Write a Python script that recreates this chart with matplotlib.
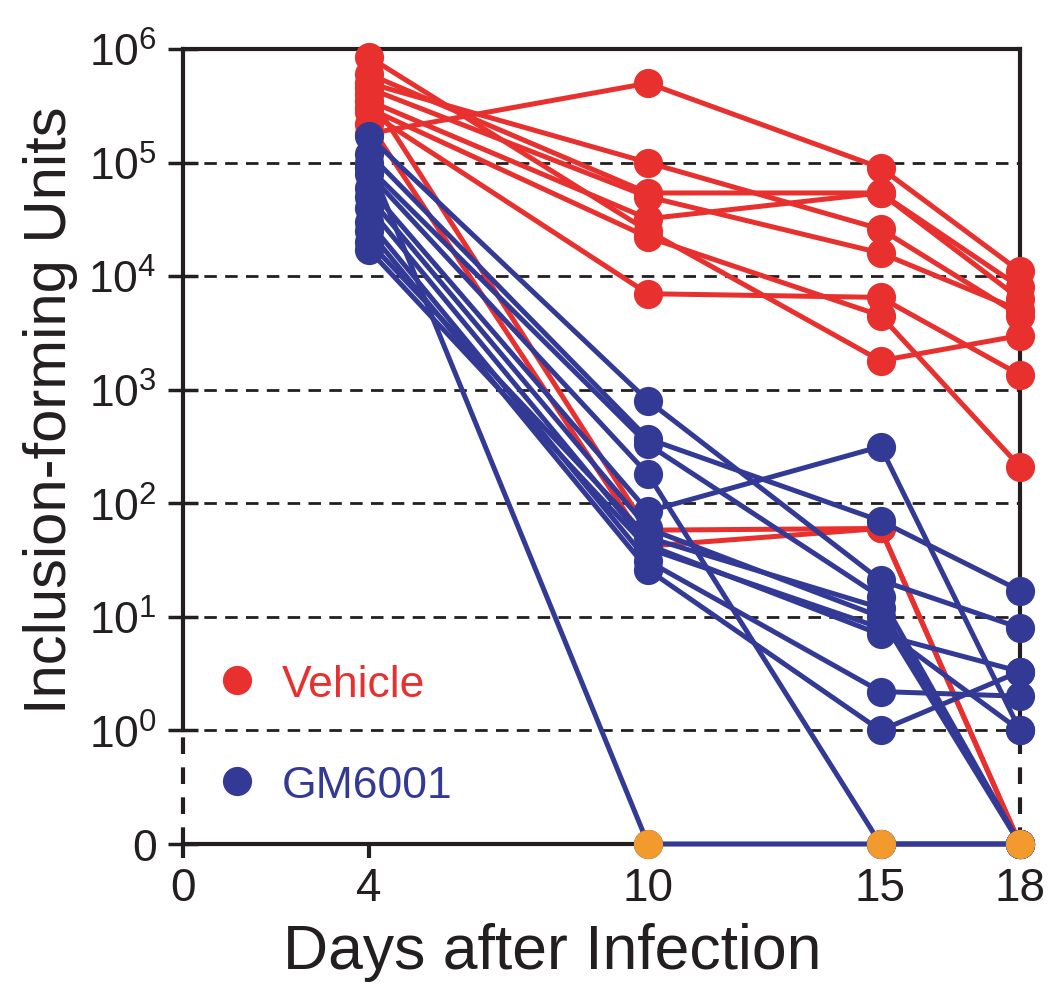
import numpy as np
import matplotlib.pyplot as plt
from matplotlib.lines import Line2D
from matplotlib.ticker import NullLocator

plt.rcParams['font.family'] = ['Liberation Sans', 'DejaVu Sans']
plt.rcParams['mathtext.fontset'] = 'custom'
plt.rcParams['mathtext.rm'] = 'Liberation Sans'
plt.rcParams['mathtext.it'] = 'Liberation Sans:italic'
plt.rcParams['mathtext.bf'] = 'Liberation Sans:bold'

# days post infection
days = [4, 10, 15, 18]

# inclusion-forming units per mouse (0 = none recovered)
vehicle = [
    [1.8e5, 5.0e5, 9.0e4, 1.1e4],
    [5.0e5, 1.0e5, 2.6e4, 4.5e3],
    [6.0e5, 5.4e4, 5.4e4, 8.0e3],
    [3.5e5, 3.2e4, 5.4e4, 6.3e3],
    [4.5e5, 5.0e4, 1.6e4, 5.0e3],
    [3.0e5, 2.2e4, 4.5e3, 2.1e2],
    [8.5e5, 2.5e4, 1.8e3, 3.0e3],
    [2.8e5, 7.0e3, 6.5e3, 1.35e3],
    [4.0e5, 58, 60, 0],
    [2.2e5, 42, 60, 0],
]

gm6001 = [
    [1.7e5, 800, 21, 8],
    [1.2e5, 370, 70, 17],
    [9.0e4, 330, 15, 0],
    [8.0e4, 180, 0, 0],
    [6.0e4, 85, 316, 1.0],
    [5.0e4, 60, 10, 0],
    [4.0e4, 43, 7, 3.3],
    [3.0e4, 31, 2.2, 2.0],
    [2.5e4, 26, 1.0, 3.3],
    [2.0e4, 50, 12, 0],
    [1.7e4, 40, 8, 1.0],
    [1.0e5, 0, 0, 0],
]

ytick_vals = [0, 1, 10, 100, 1e3, 1e4, 1e5, 1e6]
ytick_labels = ['0'] + [r'$\mathregular{10^{%d}}$' % i for i in range(7)]
xtick_vals = [0, 4, 10, 15, 18]

RED = '#e8302e'
BLUE = '#333a96'
ORANGE = '#f29a2e'
INK = '#231f20'

fig = plt.figure(figsize=(10.5, 9.95), dpi=100)
ax = fig.add_axes([183 / 1050, 150 / 995, 837 / 1050, 795 / 995])

# log axis with a "0" one decade below 10^0
ax.set_yscale('symlog', linthresh=1, linscale=0.9)
ax.set_xlim(0, 18)
ax.set_ylim(0, 1e6)

for y in ytick_vals[1:-1]:
    ax.axhline(y, color=INK, lw=2, dashes=(4.5, 3), zorder=1)

def draw_group(data, color, z):
    for mouse in data:
        ax.plot(days, mouse, color=color, lw=3.6, marker='o', ms=20,
                mec=color, mfc=color, zorder=z, clip_on=False)

draw_group(vehicle, RED, 3)
draw_group(gm6001, BLUE, 4)

# no recovered IFU -> orange markers on the zero line
zeros = sorted({d for grp in (vehicle, gm6001) for m in grp
                for d, v in zip(days, m) if v == 0})
ax.plot(zeros, [0] * len(zeros), ls='none', marker='o', ms=20,
        color=ORANGE, zorder=6, clip_on=False)

# spines: solid above 10^0, dashed into the zero band
for side in ['left', 'right']:
    ax.spines[side].set_bounds(1, 1e6)
for sp in ax.spines.values():
    sp.set_linewidth(3)
    sp.set_color(INK)
for x in [0, 18]:
    ax.plot([x, x], [0, 1], color=INK, lw=3, dashes=(4, 3.2), zorder=2,
            clip_on=False)

ax.yaxis.set_minor_locator(NullLocator())
ax.set_yticks(ytick_vals)
ax.set_yticklabels(ytick_labels)
ax.set_xticks(xtick_vals)
ax.tick_params(axis='y', direction='inout', length=22, width=2.5,
               pad=8, labelsize=32, colors=INK)
ax.tick_params(axis='x', direction='out', length=10, width=3,
               pad=6, labelsize=33, colors=INK)

ax.set_xlabel('Days after Infection', fontsize=45, color=INK)
ax.xaxis.set_label_coords(0.441, -0.098)
ax.set_ylabel('Inclusion-forming Units', fontsize=43, color=INK)
ax.yaxis.set_label_coords(-0.125, 0.547)

handles = [Line2D([], [], ls='none', marker='o', ms=20, color=RED),
           Line2D([], [], ls='none', marker='o', ms=20, color=BLUE)]
leg = ax.legend(handles, ['Vehicle', 'GM6001'], loc='upper left',
                bbox_to_anchor=(0.038, 0.227), frameon=False, fontsize=32,
                handlelength=1.0, handletextpad=0.5, labelspacing=1.36,
                borderpad=0, borderaxespad=0, labelcolor=[RED, BLUE])

fig.savefig('out.png', dpi=100)
